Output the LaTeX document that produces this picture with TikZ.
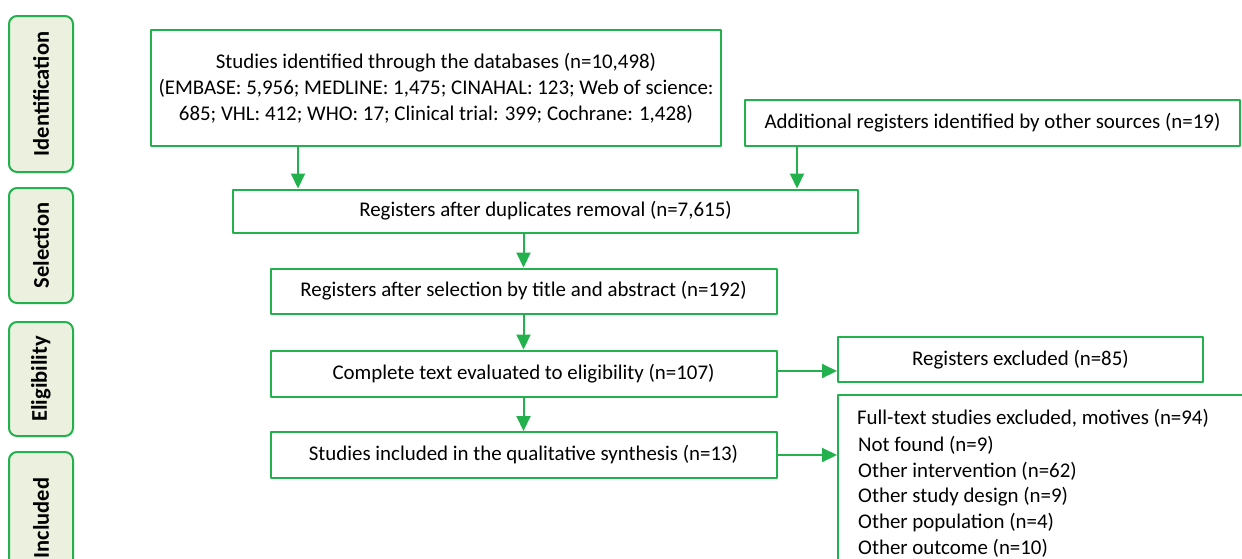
\documentclass[tikz,border=0pt]{standalone}
\usepackage{fontspec}
\setmainfont{Carlito}
\usepackage{tikz}
\usetikzlibrary{arrows.meta}
\usetikzlibrary{shapes}
\definecolor{prgreen}{RGB}{34,177,76}
\definecolor{prfill}{RGB}{235,241,222}

\begin{document}
\begin{tikzpicture}[x=1pt,y=-1pt,>={Triangle[width=14pt,length=15pt]},line join=bevel,
  box/.style={draw=prgreen,line width=2pt,inner sep=0pt,align=center,
    font=\fontsize{20.9}{26}\selectfont},
  stage/.style={draw=prgreen,fill=prfill,line width=2pt,rounded corners=8pt,
    inner sep=0pt,minimum height=64pt,rotate=90,
    font=\fontsize{22.5}{26}\selectfont\bfseries},
  link/.style={prgreen,line width=2pt,->},
  plain/.style={inner sep=0pt,align=left,font=\fontsize{20.9}{25.7}\selectfont}]
\useasboundingbox (0,0) rectangle (1242,558);
%%
\node (stage_0) at (41,94) [stage,minimum width=156pt] {Identification};
  \node (stage_1) at (41,245.5) [stage,minimum width=115pt] {Selection};
  \node (stage_2) at (41,379) [stage,minimum width=114pt] {Eligibility};
  \node (stage_3) at (41,518) [stage,minimum width=132pt] {Included};
%%
\node (node_0) at (436,88) [box,minimum width=570pt,minimum height=116pt]
  {Studies identified through the databases (n=10,498)\\
   (EMBASE: 5,956; MEDLINE: 1,475; CINAHAL: 123; Web of science:\\
   685; VHL: 412; WHO: 17; Clinical trial: 399; Cochrane: 1,428)};
  \node (node_1) at (992.5,123) [box,minimum width=495pt,minimum height=46pt]
  {Additional registers identified by other sources (n=19)};
  \node (node_2) at (545.5,211) [box,minimum width=625pt,minimum height=43pt]
  {Registers after duplicates removal (n=7,615)};
  \node (node_3) at (523.5,291) [box,minimum width=506pt,minimum height=45pt]
  {Registers after selection by title and abstract (n=192)};
  \node (node_4) at (523.5,373.5) [box,minimum width=506pt,minimum height=46pt]
  {Complete text evaluated to eligibility (n=107)};
  \node (node_5) at (1020.5,359.5) [box,minimum width=365pt,minimum height=45pt]
  {Registers excluded (n=85)};
  \node (node_6) at (523.5,455) [box,minimum width=506pt,minimum height=46pt]
  {Studies included in the qualitative synthesis (n=13)};
  \node (node_7) at (1060,500) [box,minimum width=444pt,minimum height=210pt] {};
  \node (node_8) at (1033,418) [plain] {Full-text studies excluded, motives (n=94)};
  \node (node_9) at (858,436) [plain,anchor=north west]
  {Not found (n=9)\\ Other intervention (n=62)\\ Other study design (n=9)\\
   Other population (n=4)\\ Other outcome (n=10)};
%
\draw [link] (298,0 |- node_0.south) -- (298,0 |- node_2.north);
  \draw [link] (797,0 |- node_1.south) -- (797,0 |- node_2.north);
  \draw [link] (node_3.north |- node_2.south) -- (node_3.north);
  \draw [link] (node_3.south) -- (node_4.north);
  \draw [link] (node_4.south) -- (node_6.north);
  \draw [link] (node_4.east |- 0,371) -- (node_5.west |- 0,371);
  \draw [link] (node_6.east) -- (node_7.west |- node_6.east);
%
\end{tikzpicture}
\end{document}
